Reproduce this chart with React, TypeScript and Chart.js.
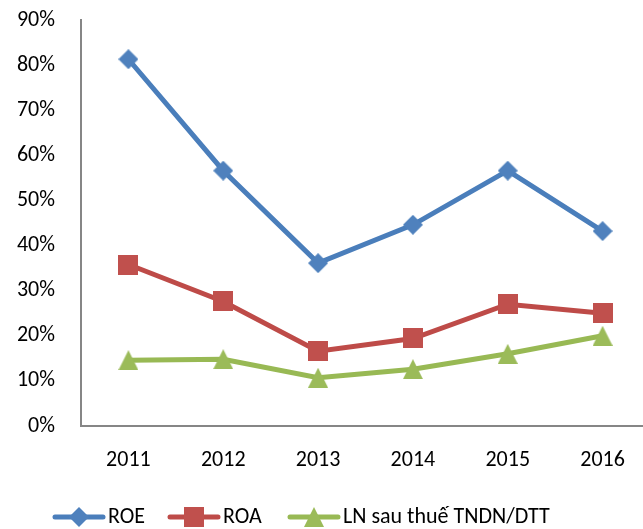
import React, { useEffect, useRef } from "react";
import { Chart, registerables } from "chart.js";

Chart.register(...registerables);

const years = ["2011", "2012", "2013", "2014", "2015", "2016"];
const roe = [0.813, 0.566, 0.361, 0.446, 0.566, 0.432];
const roa = [0.358, 0.276, 0.166, 0.194, 0.27, 0.25];
const lnDtt = [0.146, 0.148, 0.107, 0.126, 0.16, 0.2];
const seriesNames = ["ROE", "ROA", "LN sau thuế TNDN/DTT"];
const yMin = 0;
const yMax = 0.9;
const yStep = 0.1;

const FONT = 'Calibri, Carlito, Lato, "Open Sans", sans-serif';
const FONT_SIZE = 22;
const AXIS_COLOR = "#868686";
const LEGEND_X = [55, 170, 290];

function makeMarker(shape: string, color: string, size: number) {
  const c = document.createElement("canvas");
  c.width = size;
  c.height = size;
  const ctx = c.getContext("2d")!;
  ctx.fillStyle = color;
  ctx.beginPath();
  const h = size / 2;
  if (shape === "diamond") {
    ctx.moveTo(h, 0);
    ctx.lineTo(size, h);
    ctx.lineTo(h, size);
    ctx.lineTo(0, h);
  } else if (shape === "square") {
    ctx.rect(0, 0, size, size);
  } else {
    ctx.moveTo(h, 0);
    ctx.lineTo(size, size);
    ctx.lineTo(0, size);
  }
  ctx.closePath();
  ctx.fill();
  return c;
}

export default function App() {
  const ref = useRef<HTMLCanvasElement | null>(null);

  useEffect(() => {
    if (!ref.current) return;
    const markers = [
      makeMarker("diamond", "#4F81BD", 20),
      makeMarker("square", "#C0504D", 20),
      makeMarker("triangle", "#9BBB59", 20),
    ];
    const lineColors = ["#4A7EBB", "#BE4B48", "#98B954"];
    const values = [roe, roa, lnDtt];

    const legendPlugin = {
      id: "excelLegend",
      afterDraw(chart: any) {
        const ctx = chart.ctx;
        ctx.save();
        ctx.font = `${FONT_SIZE}px ${FONT}`;
        ctx.textBaseline = "middle";
        ctx.textAlign = "left";
        const y = 517;
        seriesNames.forEach((name, i) => {
          const x = LEGEND_X[i];
          ctx.strokeStyle = lineColors[i];
          ctx.lineWidth = 5;
          ctx.lineCap = "round";
          ctx.beginPath();
          ctx.moveTo(x, y);
          ctx.lineTo(x + 48, y);
          ctx.stroke();
          const m = markers[i];
          ctx.drawImage(m, x + 24 - m.width / 2, y - m.height / 2);
          ctx.fillStyle = "#000000";
          ctx.fillText(name, x + 53, y);
        });
        ctx.restore();
      },
    };

    const chart = new Chart(ref.current, {
      type: "line",
      data: {
        labels: years,
        datasets: seriesNames.map((name, i) => ({
          label: name,
          data: values[i],
          borderColor: lineColors[i],
          backgroundColor: lineColors[i],
          borderWidth: 5,
          pointStyle: markers[i] as any,
          pointRadius: 10,
          tension: 0,
          fill: false,
        })),
      },
      options: {
        animation: false,
        responsive: false,
        maintainAspectRatio: false,
        devicePixelRatio: 1,
        layout: { autoPadding: false, padding: { top: 20, left: 0, right: 0, bottom: 43 } },
        plugins: {
          legend: { display: false },
          tooltip: { enabled: false },
        },
        scales: {
          x: {
            type: "category",
            offset: true,
            grid: { display: false, drawTicks: false },
            border: { display: true, color: AXIS_COLOR, width: 2 },
            ticks: {
              color: "#000000",
              font: { family: FONT, size: FONT_SIZE },
              padding: 21,
              maxRotation: 0,
            },
            afterFit(scale: any) {
              scale.height = 60;
              scale.paddingLeft = 0;
              scale.paddingRight = 0;
            },
          },
          y: {
            min: yMin,
            max: yMax,
            grid: { display: false, drawTicks: false },
            border: { display: true, color: AXIS_COLOR, width: 2 },
            ticks: {
              stepSize: yStep,
              color: "#000000",
              font: { family: FONT, size: FONT_SIZE },
              padding: 26,
              callback: (v: any) => Math.round(Number(v) * 100) + "%",
            },
            afterFit(scale: any) {
              scale.width = 81;
              scale.paddingTop = 0;
              scale.paddingBottom = 0;
            },
          },
        },
      },
      plugins: [legendPlugin],
    });
    return () => chart.destroy();
  }, []);

  return (
    <div
      style={{
        position: "absolute",
        left: 0,
        top: 0,
        width: 643,
        height: 529,
        overflow: "hidden",
        background: "#ffffff",
      }}
    >
      <canvas
        ref={ref}
        width={650}
        height={529}
        style={{ display: "block", width: 650, height: 529 }}
      />
    </div>
  );
}
